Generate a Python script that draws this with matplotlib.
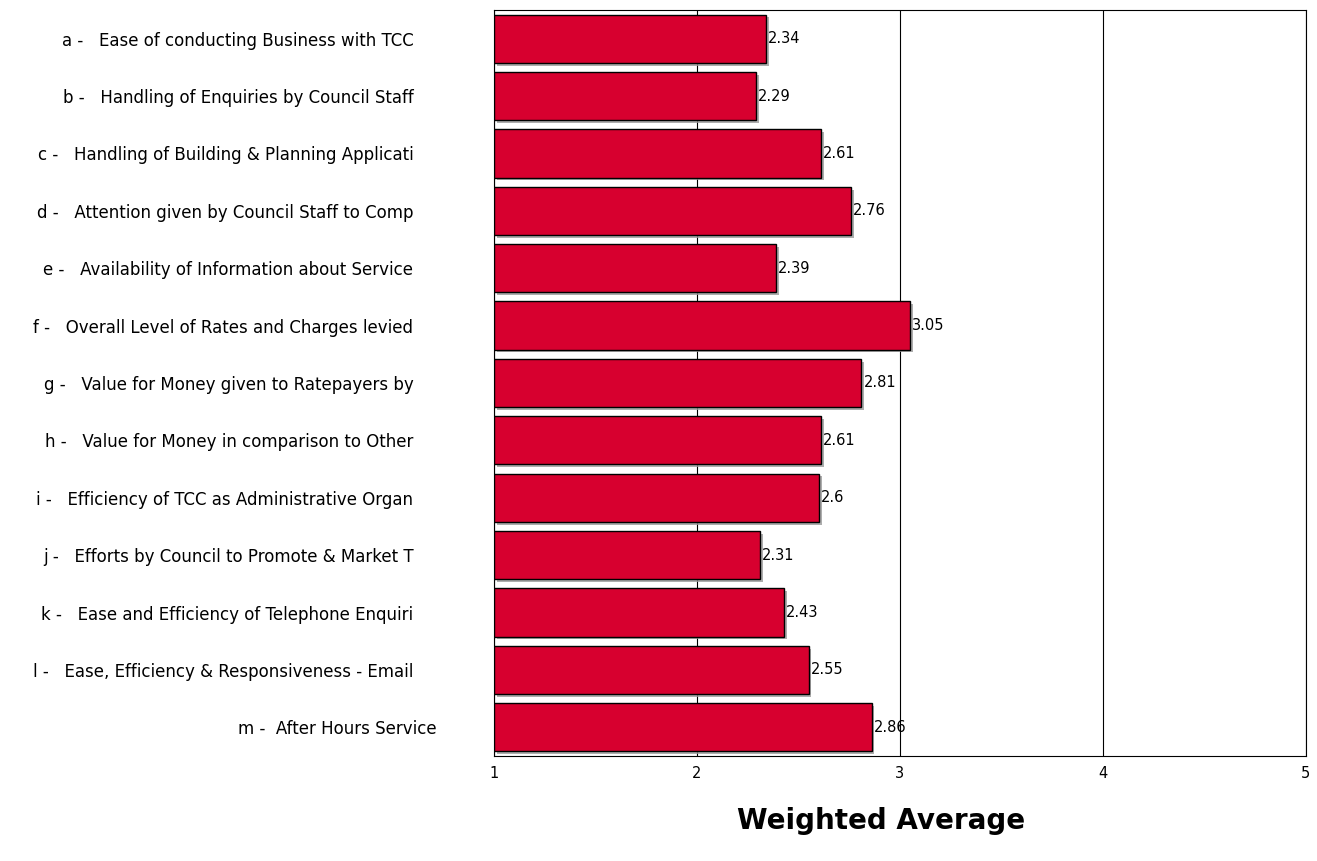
import matplotlib.pyplot as plt
import matplotlib.patheffects as pe
import matplotlib.transforms as mtransforms

labels = [
    'a -   Ease of conducting Business with TCC',
    'b -   Handling of Enquiries by Council Staff',
    'c -   Handling of Building & Planning Applicati',
    'd -   Attention given by Council Staff to Comp',
    'e -   Availability of Information about Service',
    'f -   Overall Level of Rates and Charges levied',
    'g -   Value for Money given to Ratepayers by',
    'h -   Value for Money in comparison to Other',
    'i -   Efficiency of TCC as Administrative Organ',
    'j -   Efforts by Council to Promote & Market T',
    'k -   Ease and Efficiency of Telephone Enquiri',
    'l -   Ease, Efficiency & Responsiveness - Email',
    'm -  After Hours Service',
]
values = [2.34, 2.29, 2.61, 2.76, 2.39, 3.05, 2.81, 2.61, 2.6, 2.31, 2.43, 2.55, 2.86]
xticks = [1, 2, 3, 4, 5]

plt.rcParams['font.family'] = 'DejaVu Sans'

fig = plt.figure(figsize=(13.17, 8.61), dpi=100)
ax = fig.add_axes([0.3751, 0.1220, 0.6165, 0.8664])

ypos = list(range(len(values)))
bars = ax.barh(ypos, [v - 1 for v in values], left=1, height=0.84,
               color='#D7002F', edgecolor='black', linewidth=1, zorder=3)
for b in bars:
    b.set_path_effects([pe.SimplePatchShadow(offset=(2, -2), shadow_rgbFace='#999999', alpha=0.8),
                        pe.Normal()])

for y, v in zip(ypos, values):
    ax.text(v + 0.01, y, f'{v:g}', va='center', ha='left', fontsize=10.5, zorder=4)

ax.set_xlim(1, 5)
ax.set_ylim(len(values) - 0.5, -0.5)
ax.set_xticks(xticks)
ax.set_xticklabels([str(t) for t in xticks], fontsize=10.5)
ax.set_yticks(ypos)
ax.set_yticklabels(labels, fontsize=12)
ax.tick_params(axis='x', length=0, pad=7)
ax.tick_params(axis='y', length=0, pad=58)
# last label sits a bit closer to the axis in the original
last = ax.get_yticklabels()[-1]
last.set_transform(last.get_transform() + mtransforms.ScaledTranslation(0.23, 0, fig.dpi_scale_trans))

ax.xaxis.grid(True, color='black', linewidth=0.8, zorder=1)
ax.set_axisbelow(True)
for s in ax.spines.values():
    s.set_color('black')
    s.set_linewidth(0.8)

ax.set_xlabel('Weighted Average', fontsize=20, fontweight='bold')
ax.xaxis.set_label_coords(0.477, -0.068)

fig.savefig('out.png', dpi=100)
